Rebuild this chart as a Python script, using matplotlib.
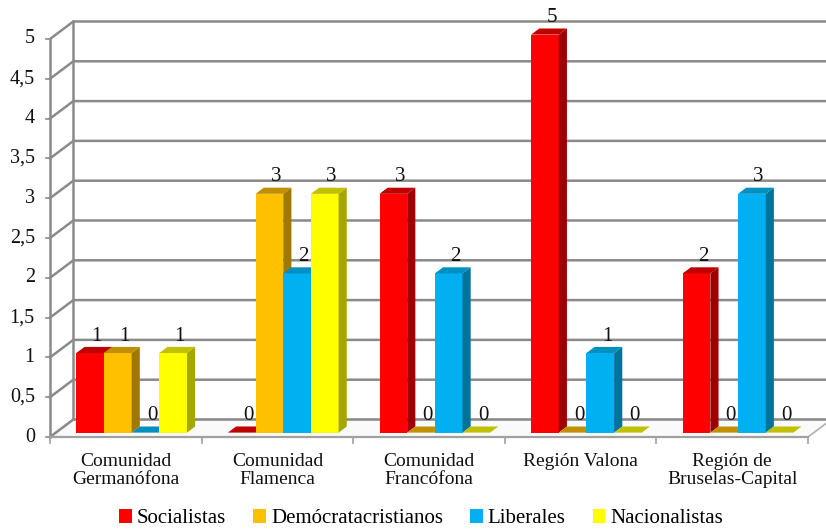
import matplotlib.pyplot as plt
from matplotlib.patches import Polygon, Patch
import numpy as np

plt.rcParams['font.family'] = ['Liberation Serif', 'DejaVu Serif']

categories = ["Comunidad\nGermanófona", "Comunidad\nFlamenca", "Comunidad\nFrancófona",
              "Región Valona", "Región de\nBruselas-Capital"]
series_names = ["Socialistas", "Demócratacristianos", "Liberales", "Nacionalistas"]
socialistas = [1, 0, 3, 5, 2]
democristianos = [1, 3, 0, 0, 0]
liberales = [0, 2, 2, 1, 3]
nacionalistas = [1, 3, 0, 0, 0]
y_ticks = [0, 0.5, 1, 1.5, 2, 2.5, 3, 3.5, 4, 4.5, 5]
y_tick_labels = ["0", "0,5", "1", "1,5", "2", "2,5", "3", "3,5", "4", "4,5", "5"]

series = [socialistas, democristianos, liberales, nacionalistas]
# front, top, side colours
colors = [("#FF0000", "#C00000", "#A00000"),
          ("#FFC000", "#C09000", "#A07800"),
          ("#00B0F0", "#0090C0", "#00739A"),
          ("#FFFF00", "#C0C000", "#A6A600")]

# 3d depth in data units (floor depth)
DX, DY = 0.154, 0.22
BAR_D0, BAR_D1 = 0.25, 0.6
BAR_W = 0.1825
GROUP_PAD = 0.135


def proj(x, y, d):
    return (x + d * DX, y + d * DY)


fig = plt.figure(figsize=(8.26, 5.29), dpi=100)
ax = fig.add_axes([50 / 826, 92 / 529, 758 / 826, 398 / 529])
ax.set_xlim(0, len(categories))
ax.set_ylim(0, 5)
ax.axis('off')

grid_c = "#8a8a8a"
n = len(categories)

# floor
floor = Polygon([proj(0, 0, 0), proj(n, 0, 0), proj(n, 0, 1), proj(0, 0, 1)],
                closed=True, facecolor="#fafafa", edgecolor="#b0b0b0", lw=1.2,
                clip_on=False, zorder=1)
ax.add_patch(floor)

# back wall gridlines and diagonals
for v, lab in zip(y_ticks, y_tick_labels):
    x0, y0 = proj(0, v, 0)
    x1, y1 = proj(0, v, 1)
    x2, y2 = proj(n + 0.2, v, 1)
    ax.plot([x0, x1, x2], [y0, y1, y2], color=grid_c, lw=1.8, clip_on=False,
            solid_joinstyle='miter', zorder=2)
    ax.plot([-0.025, 0], [v, v], color=grid_c, lw=1.2, clip_on=False, zorder=2)
    ax.text(-0.1, v, lab, ha='right', va='center', fontsize=14.5, color="#111111")

bx, by0 = proj(0, 0, 1)
_, by1 = proj(0, 5, 1)
ax.plot([bx, bx], [by0, by1], color=grid_c, lw=1.8, clip_on=False, zorder=2)
ax.plot([0, 0], [0, 5], color=grid_c, lw=1.8, clip_on=False, zorder=2)
ax.plot([0, n], [0, 0], color="#a0a0a0", lw=1.6, clip_on=False, zorder=2)
for i in range(n + 1):
    ax.plot([i, i], [0, -0.07], color="#a0a0a0", lw=1.2, clip_on=False, zorder=2)

# bars
z = 3
for i in range(n):
    for k, vals in enumerate(series):
        v = vals[i]
        xl = i + GROUP_PAD + k * BAR_W
        xr = xl + BAR_W
        front_c, top_c, side_c = colors[k]
        fl = proj(xl, 0, BAR_D0)
        fr = proj(xr, 0, BAR_D0)
        ftl = proj(xl, v, BAR_D0)
        ftr = proj(xr, v, BAR_D0)
        btl = proj(xl, v, BAR_D1)
        btr = proj(xr, v, BAR_D1)
        bbr = proj(xr, 0, BAR_D1)
        if v > 0:
            ax.add_patch(Polygon([fl, fr, ftr, ftl], closed=True, facecolor=front_c,
                                 edgecolor='none', zorder=z, clip_on=False))
            ax.add_patch(Polygon([fr, bbr, btr, ftr], closed=True, facecolor=side_c,
                                 edgecolor='none', zorder=z, clip_on=False))
        ax.add_patch(Polygon([ftl, ftr, btr, btl], closed=True, facecolor=top_c,
                             edgecolor='none', zorder=z, clip_on=False))
        z += 1
        cx, cy = proj((xl + xr) / 2, v, BAR_D1)
        ax.annotate(str(v), (cx - 0.01, cy), xytext=(0, 1), textcoords='offset points',
                    ha='center', va='bottom', fontsize=15, color="#111111", zorder=50,
                    annotation_clip=False)

# category labels
for i, c in enumerate(categories):
    ax.text(i + 0.5, -0.2, c, ha='center', va='top', fontsize=14,
            color="#111111", linespacing=1.08)

handles = [Patch(facecolor=colors[k][0], edgecolor='none', label=series_names[k])
           for k in range(len(series_names))]
fig.legend(handles=handles, loc='lower center', bbox_to_anchor=(0.51, -0.034), ncol=4,
           frameon=False, fontsize=15, handlelength=0.6, handleheight=0.6,
           handletextpad=0.25, columnspacing=1.3)

fig.savefig("out.png", dpi=100)
